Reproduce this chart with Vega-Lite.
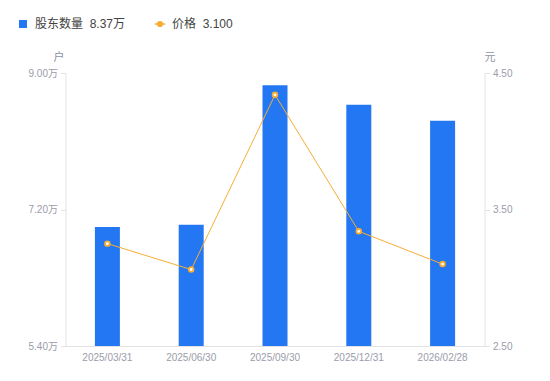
{
  "$schema": "https://vega.github.io/schema/vega-lite/v6.json",
  "width": 419,
  "height": 273,
  "autosize": "none",
  "padding": {"left": 65.5, "top": 73, "right": 65.5, "bottom": 35},
  "config": {
    "font": "Liberation Sans, Noto Sans CJK SC",
    "view": {"stroke": null}
  },
  "data": {
    "values": [
      {"date": "2025/03/31", "holders": 6.97, "price": 3.25},
      {"date": "2025/06/30", "holders": 7.0, "price": 3.06},
      {"date": "2025/09/30", "holders": 8.84, "price": 4.34},
      {"date": "2025/12/31", "holders": 8.58, "price": 3.34},
      {"date": "2026/02/28", "holders": 8.37, "price": 3.1}
    ]
  },
  "encoding": {
    "x": {
      "field": "date",
      "type": "ordinal",
      "sort": null,
      "scale": {"paddingInner": 0, "paddingOuter": 0},
      "axis": {
        "title": null,
        "labelAngle": 0,
        "labelFontSize": 10,
        "labelColor": "#9a9cab",
        "labelPadding": 6,
        "ticks": false,
        "domainColor": "#e3e3e6",
        "grid": false
      }
    }
  },
  "layer": [
    {
      "mark": {"type": "bar", "width": 25, "color": "#2477f2"},
      "encoding": {
        "y": {
          "field": "holders",
          "type": "quantitative",
          "scale": {"domain": [5.4, 9.0], "zero": false, "nice": false},
          "axis": {
            "orient": "left",
            "values": [5.4, 7.2, 9.0],
            "labelExpr": "format(datum.value, '.2f') + '万'",
            "labelFontSize": 10,
            "labelColor": "#9a9cab",
            "labelPadding": 3,
            "tickSize": 5,
            "tickColor": "#e3e3e6",
            "domainColor": "#e3e3e6",
            "grid": false,
            "title": "户",
            "titleAngle": 0,
            "titleFontSize": 11,
            "titleFontWeight": "normal",
            "titleColor": "#8f919e",
            "titleAlign": "center",
            "titleBaseline": "middle",
            "titleX": -7,
            "titleY": -16
          }
        },
        "y2": {"datum": 5.4},
        "color": {
          "datum": "股东数量",
          "type": "nominal",
          "scale": {"domain": ["股东数量", "价格"], "range": ["#2477f2", "#f7ad35"]},
          "legend": {
            "title": null,
            "orient": "none",
            "direction": "horizontal",
            "legendX": -48.5,
            "legendY": -55,
            "labelFontSize": 12,
            "labelColor": "#444444",
            "labelOffset": 6,
            "columnPadding": 25,
            "symbolSize": 64,
            "labelExpr": "datum.label == '股东数量' ? '股东数量\u00a0\u00a08.37万' : '价格\u00a0\u00a03.100'",
            "encode": {
              "symbols": {
                "update": {
                  "shape": {"signal": "datum.index === 0 ? 'square' : 'M-1,0H-0.45M0.45,0H1M0.45,0A0.45,0.45 0 1,1 -0.45,0A0.45,0.45 0 1,1 0.45,0'"},
                  "fill": {"signal": "datum.index === 0 ? '#2477f2' : '#ffffff'"},
                  "stroke": {"signal": "datum.index === 0 ? '#2477f2' : '#f7ad35'"},
                  "strokeWidth": {"signal": "datum.index === 0 ? 0 : 1.5"},
                  "size": {"signal": "datum.index === 0 ? 64 : 110"},
                  "opacity": {"value": 1},
                  "fillOpacity": {"value": 1}
                }
              }
            }
          }
        }
      }
    },
    {
      "layer": [
        {
          "mark": {"type": "line", "color": "#f7ad35", "strokeWidth": 1},
          "encoding": {
            "y": {
              "field": "price",
              "type": "quantitative",
              "scale": {"domain": [2.5, 4.5], "zero": false, "nice": false},
              "axis": {
                "orient": "right",
                "values": [2.5, 3.5, 4.5],
                "format": ".2f",
                "labelFontSize": 10,
                "labelColor": "#9a9cab",
                "labelPadding": 3,
                "tickSize": 5,
                "tickColor": "#e3e3e6",
                "domainColor": "#e3e3e6",
                "grid": false,
                "title": "元",
                "titleAngle": 0,
                "titleFontSize": 11,
                "titleFontWeight": "normal",
                "titleColor": "#8f919e",
                "titleAlign": "center",
                "titleBaseline": "middle",
                "titleX": 5,
                "titleY": -16
              }
            },
            "color": {"datum": "价格", "type": "nominal"}
          }
        },
        {
          "mark": {"type": "point", "filled": true, "fill": "#ffffff", "stroke": "#f7ad35", "strokeWidth": 1.8, "size": 22, "opacity": 1},
          "encoding": {
            "y": {"field": "price", "type": "quantitative"}
          }
        }
      ]
    }
  ],
  "resolve": {"scale": {"y": "independent"}}
}
